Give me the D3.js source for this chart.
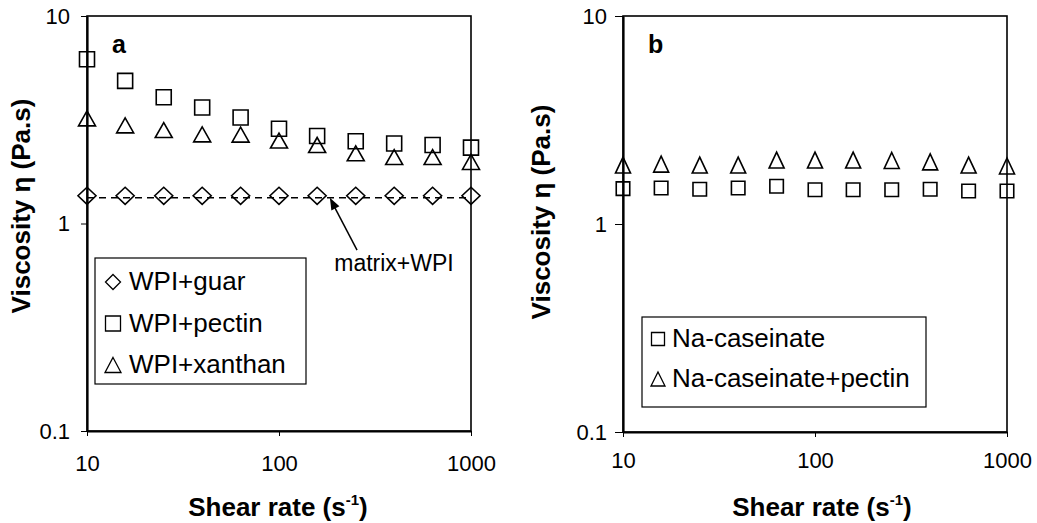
<!DOCTYPE html>
<html>
<head>
<meta charset="utf-8">
<script src="https://cdn.jsdelivr.net/npm/d3@7"></script>
<style>
  html, body { margin: 0; padding: 0; background: #fff; }
  svg { display: block; }
  text { font-family: "Liberation Sans", Arial, sans-serif; fill: #000; }
</style>
</head>
<body>
<svg id="chart" width="1037" height="523"></svg>
<script>
// ---- data ----
const shearRate = [10, 15.8, 25.1, 39.8, 63.1, 100, 158, 251, 398, 631, 1000];
const wpiGuar    = [1.36, 1.36, 1.36, 1.36, 1.36, 1.36, 1.36, 1.36, 1.36, 1.36, 1.36];
const wpiPectin  = [6.19, 4.87, 4.06, 3.62, 3.24, 2.86, 2.64, 2.49, 2.43, 2.39, 2.32];
const wpiXanthan = [3.21, 2.97, 2.82, 2.69, 2.68, 2.51, 2.39, 2.18, 2.09, 2.09, 1.98];
const matrixWpiX = [10, 1000];
const matrixWpi  = [1.33, 1.33];
const naCaseinate       = [1.48, 1.49, 1.47, 1.49, 1.52, 1.46, 1.46, 1.46, 1.47, 1.44, 1.44];
const naCaseinatePectin = [1.92, 1.94, 1.92, 1.92, 2.03, 2.03, 2.03, 2.02, 1.99, 1.92, 1.90];
const xTicks = [10, 100, 1000];
const xTickLabels = ["10", "100", "1000"];
const yTicks = [0.1, 1, 10];
const yTickLabels = ["0.1", "1", "10"];
const legendA = ["WPI+guar", "WPI+pectin", "WPI+xanthan"];
const legendB = ["Na-caseinate", "Na-caseinate+pectin"];

const svg = d3.select("#chart");
const FONT = '"Liberation Sans", Arial, sans-serif';

function symPath(type, w, h) {
  const a = w / 2, b = h / 2;
  if (type === "square") return `M${-a},${-b}H${a}V${b}H${-a}Z`;
  if (type === "diamond") return `M0,${-b}L${a},0L0,${b}L${-a},0Z`;
  return `M0,${-b}L${a},${b}L${-a},${b}Z`;
}

function panel(cfg) {
  const g = svg.append("g");
  const x = d3.scaleLog().domain([10, 1000]).range([cfg.x0, cfg.x1]);
  const y = d3.scaleLog().domain([0.1, 10]).range([cfg.y1, cfg.y0]);

  // frame
  g.append("rect").attr("x", cfg.x0).attr("y", cfg.y0)
    .attr("width", cfg.x1 - cfg.x0).attr("height", cfg.y1 - cfg.y0)
    .attr("fill", "none").attr("stroke", "#000").attr("stroke-width", 1.6);

  // axes
  const ax = g.append("g").attr("transform", `translate(0,${cfg.y1})`)
    .call(d3.axisBottom(x).tickValues(xTicks).tickFormat((d, i) => xTickLabels[i])
      .tickSize(5).tickSizeOuter(0).tickPadding(cfg.xPad));
  const ay = g.append("g").attr("transform", `translate(${cfg.x0},0)`)
    .call(d3.axisLeft(y).tickValues(yTicks).tickFormat((d, i) => yTickLabels[i])
      .tickSize(cfg.yTick).tickSizeOuter(0).tickPadding(cfg.yPad));
  [ax, ay].forEach(a => {
    a.select(".domain").attr("stroke", "#000").attr("stroke-width", 2.2);
    a.selectAll(".tick line").attr("stroke", "#000").attr("stroke-width", 1);
    a.selectAll(".tick text").attr("font-family", FONT).attr("font-size", 22).attr("fill", "#000");
  });

  // axis titles
  const xt = g.append("text").attr("x", cfg.xTitleX).attr("y", 516)
    .attr("text-anchor", "middle").attr("font-size", 26).attr("font-weight", "bold");
  xt.append("tspan").text("Shear rate (s");
  xt.append("tspan").attr("font-size", 15).attr("dy", -11).text("-1");
  xt.append("tspan").attr("dy", 11).text(")");

  g.append("text")
    .attr("transform", `translate(${cfg.yTitleX},${cfg.yTitleY}) rotate(-90)`)
    .attr("text-anchor", "middle").attr("font-size", 26).attr("font-weight", "bold")
    .text("Viscosity η (Pa.s)");

  // panel letter
  g.append("text").attr("x", cfg.x0 + 25).attr("y", 53)
    .attr("font-size", 25).attr("font-weight", "bold").text(cfg.letter);

  // series
  cfg.extra && cfg.extra(g, x, y);
  cfg.series.forEach(s => {
    g.append("g").selectAll("path").data(s.values).join("path")
      .attr("transform", (d, i) => `translate(${x(shearRate[i])},${y(d)})`)
      .attr("d", symPath(s.type, s.w, s.h))
      .attr("fill", "none").attr("stroke", "#000").attr("stroke-width", 1.6);
  });

  // legend
  const L = cfg.legend;
  g.append("rect").attr("x", L.x).attr("y", L.y).attr("width", L.w).attr("height", L.h)
    .attr("fill", "#fff").attr("stroke", "#000").attr("stroke-width", 1.2);
  L.items.forEach((it, i) => {
    const cy = L.firstBase + i * L.step;
    g.append("path").attr("transform", `translate(${L.symX},${cy - 8})`)
      .attr("d", symPath(it.type, it.w, it.h))
      .attr("fill", "none").attr("stroke", "#000").attr("stroke-width", 1.3);
    g.append("text").attr("x", L.textX).attr("y", cy).attr("font-size", 26).text(it.label);
  });
}

panel({
  x0: 87, x1: 471, y0: 16, y1: 431, xPad: 19, yTick: 6, yPad: 11,
  xTitleX: 278, yTitleX: 30, yTitleY: 206, letter: "a",
  extra: (g, x, y) => {
    const line = d3.line().x((d, i) => x(matrixWpiX[i])).y(d => y(d));
    g.append("path").datum(matrixWpi).attr("d", line)
      .attr("fill", "none").attr("stroke", "#000").attr("stroke-width", 1.4)
      .attr("stroke-dasharray", "7,5");
    // annotation arrow
    const tip = [x(184), y(1.33)], tail = [x(255), y(0.745)];
    g.append("line").attr("x1", tail[0]).attr("y1", tail[1])
      .attr("x2", tip[0] + 3).attr("y2", tip[1] + 6)
      .attr("stroke", "#000").attr("stroke-width", 1.5);
    const ang = Math.atan2(tip[1] - tail[1], tip[0] - tail[0]);
    const len = 12, hw = 4.5;
    const bx = tip[0] - len * Math.cos(ang), by = tip[1] - len * Math.sin(ang);
    g.append("path").attr("d",
      `M${tip[0]},${tip[1]}L${bx + hw * Math.sin(ang)},${by - hw * Math.cos(ang)}L${bx - hw * Math.sin(ang)},${by + hw * Math.cos(ang)}Z`)
      .attr("fill", "#000");
    g.append("text").attr("x", x(397)).attr("y", 271).attr("text-anchor", "middle")
      .attr("font-size", 23).text("matrix+WPI");
  },
  series: [
    { values: wpiGuar, type: "diamond", w: 18, h: 17 },
    { values: wpiPectin, type: "square", w: 15, h: 15 },
    { values: wpiXanthan, type: "triangle", w: 17, h: 15 }
  ],
  legend: {
    x: 95, y: 258, w: 211, h: 126, symX: 113, textX: 129, firstBase: 290, step: 41.5,
    items: [
      { label: legendA[0], type: "diamond", w: 15, h: 15 },
      { label: legendA[1], type: "square", w: 15, h: 15 },
      { label: legendA[2], type: "triangle", w: 16, h: 15 }
    ]
  }
});

panel({
  x0: 623, x1: 1007, y0: 16, y1: 432, xPad: 15, yTick: 8, yPad: 8,
  xTitleX: 822, yTitleX: 550, yTitleY: 212, letter: "b",
  series: [
    { values: naCaseinate, type: "square", w: 13.5, h: 13.5 },
    { values: naCaseinatePectin, type: "triangle", w: 15, h: 16 }
  ],
  legend: {
    x: 642, y: 317, w: 284, h: 90, symX: 658, textX: 672, firstBase: 347, step: 40,
    items: [
      { label: legendB[0], type: "square", w: 13, h: 13 },
      { label: legendB[1], type: "triangle", w: 14, h: 14 }
    ]
  }
});
</script>
</body>
</html>
